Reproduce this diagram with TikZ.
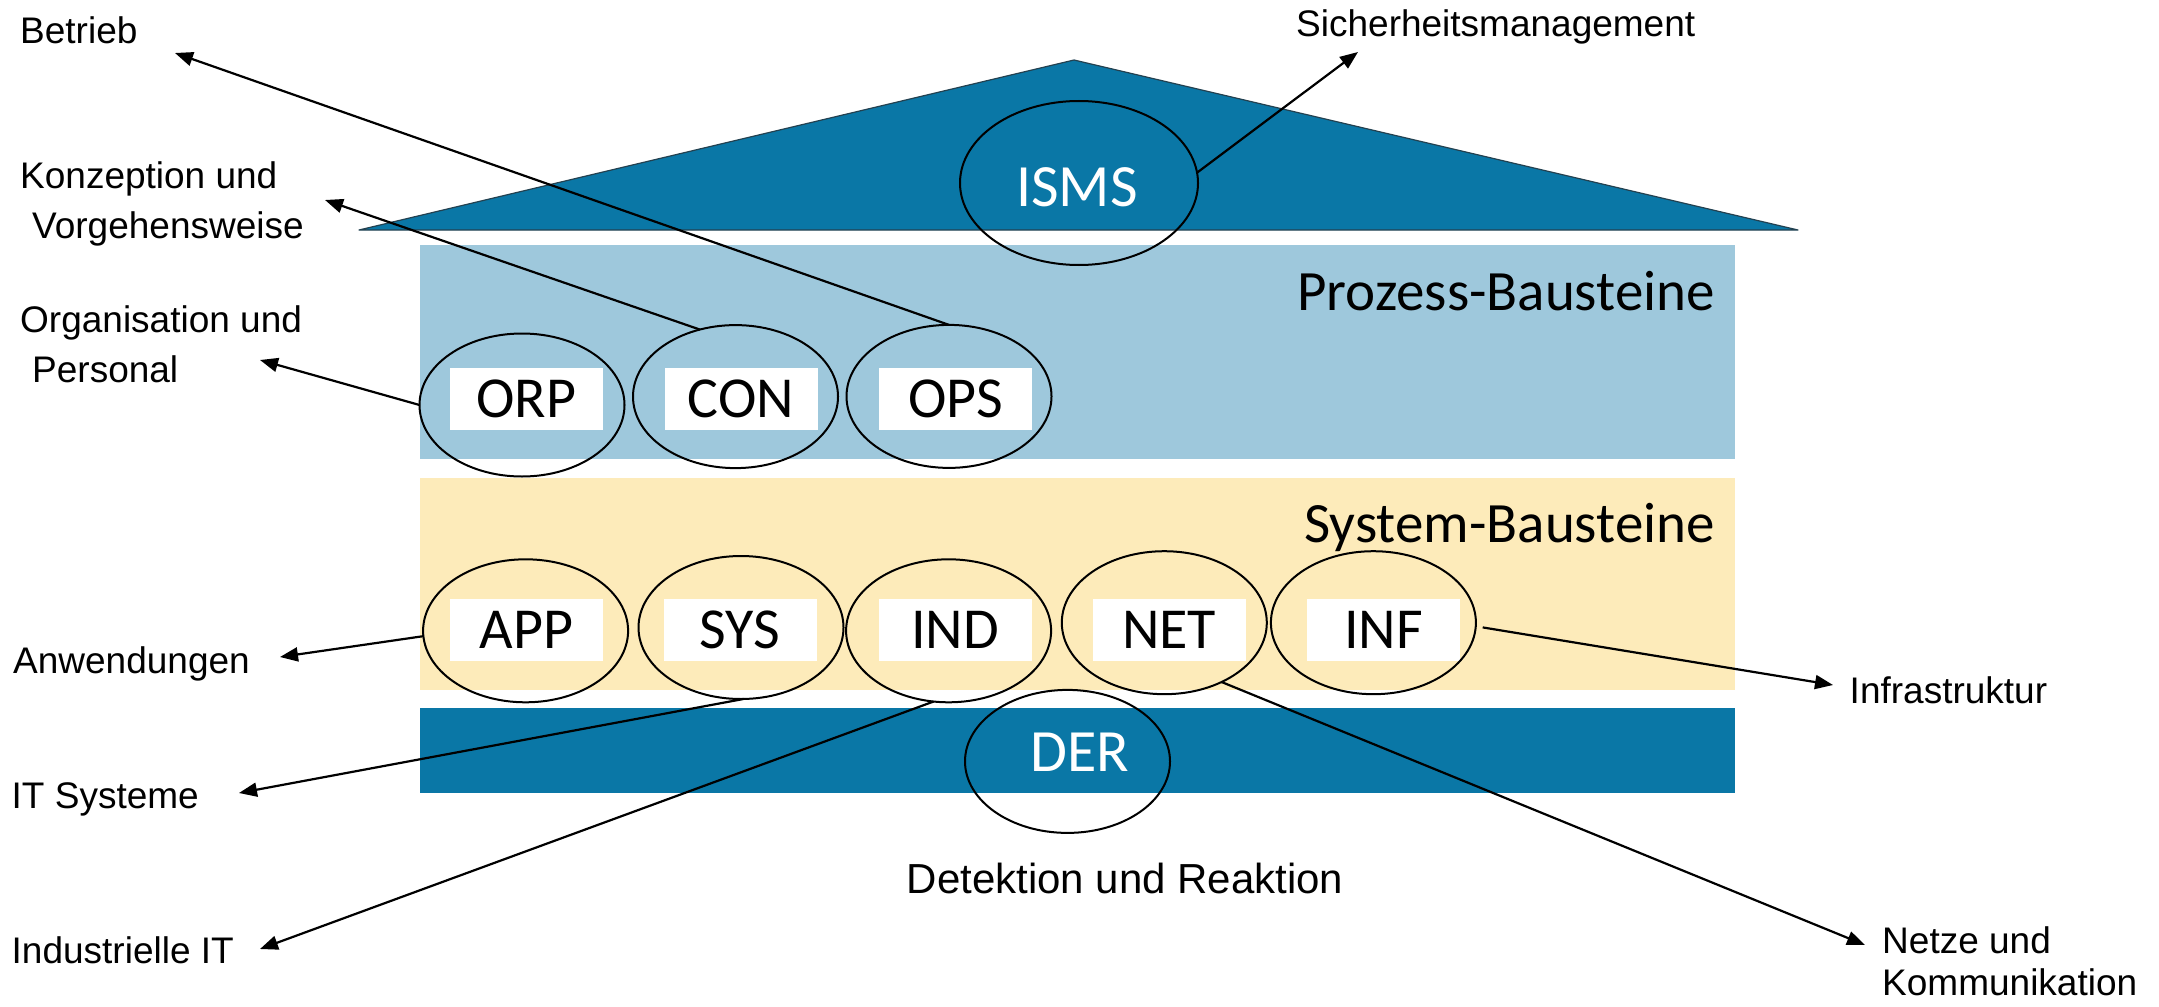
\documentclass[tikz,border=0pt]{standalone}
\usepackage{fontspec}
\setmainfont{Liberation Sans}
\newfontfamily\blockfont{Carlito}
\usetikzlibrary{arrows.meta,shapes.geometric}

\definecolor{roofblue}{RGB}{10,119,166}
\definecolor{procblue}{RGB}{158,200,220}
\definecolor{sysyellow}{RGB}{253,235,186}
\definecolor{roofedge}{RGB}{35,65,80}

\begin{document}
\begin{tikzpicture}[x=1pt,y=-1pt,
  tag/.style={fill=white,minimum width=153pt,minimum height=62pt,inner sep=0pt,
    font=\blockfont\fontsize{58}{60}\selectfont},
  ring/.style={ellipse,draw,line width=2pt,minimum width=205pt,minimum height=143pt,
    inner sep=0pt,outer sep=0pt},
  callout/.style={line width=2.2pt,-{Triangle[length=18pt,width=14pt]}},
  lbl/.style={inner sep=0pt,anchor=base west,align=left,font=\fontsize{37}{50}\selectfont},
  heading/.style={inner sep=0pt,anchor=base east,font=\blockfont\fontsize{57}{60}\selectfont},
  inverse/.style={inner sep=0pt,text=white,font=\blockfont\fontsize{60}{62}\selectfont}
]
\useasboundingbox (0,0) rectangle (2159,1006);

% roof and the three floors of the house
\draw[fill=roofblue,draw=roofedge,line width=1.2pt,line join=round]
  (359,230) -- (1074,60) -- (1798,230) -- cycle;
\fill[procblue] (420,245) rectangle (1735,459);
\fill[sysyellow] (420,478) rectangle (1735,690);
\fill[roofblue] (420,708) rectangle (1735,793);

\node[heading] (hproc) at (1715,310) {Prozess-Bausteine};
\node[heading] (hsys) at (1715,542) {System-Bausteine};

% module tags
\node[tag] (tORP) at (526.5,399) {ORP};
\node[tag] (tCON) at (741,399) {CON};
\node[tag] (tOPS) at (955.6,399) {OPS};
\node[tag] (tAPP) at (526.5,630) {APP};
\node[tag] (tSYS) at (740,630) {SYS};
\node[tag] (tIND) at (955,630) {IND};
\node[tag] (tNET) at (1169,630) {NET};
\node[tag] (tINF) at (1383.6,630) {INF};
\node[inverse] (tISMS) at (1077,187) {ISMS};
\node[inverse] (tDER) at (1080,752) {DER};

% rings around the modules
\node[ring,minimum width=238pt,minimum height=164pt] (isms) at (1079,183) {};
\node[ring] (orp) at (522,405) {};
\node[ring] (con) at (735.5,396.6) {};
\node[ring] (ops) at (949,396.4) {};
\node[ring] (app) at (525.6,630.8) {};
\node[ring] (sys) at (741,627.5) {};
\node[ring] (ind) at (948.6,630.8) {};
\node[ring] (net) at (1164.3,622.7) {};
\node[ring] (inf) at (1373.4,622.7) {};
\node[ring] (der) at (1067.5,761.4) {};

% explanations (two-line ones are placed by the baseline of their last line)
\node[lbl] (lBetrieb) at (20,44) {Betrieb};
\node[lbl] (lKonz) at (20,238) {Konzeption und\\\hspace*{12pt}Vorgehensweise};
\node[lbl] (lOrga) at (20,382) {Organisation und\\\hspace*{12pt}Personal};
\node[lbl] (lSicher) at (1296,37) {Sicherheitsmanagement};
\node[lbl] (lAnw) at (13,673) {Anwendungen};
\node[lbl] (lITS) at (11.5,808) {IT Systeme};
\node[lbl] (lInd) at (11.5,963) {Industrielle IT};
\node[lbl] (lInfra) at (1849.5,703) {Infrastruktur};
\node[lbl,font=\fontsize{37}{42}\selectfont] (lNetze) at (1882,995) {Netze und\\Kommunikation};
\node[inner sep=0pt,anchor=base,font=\fontsize{42}{50}\selectfont] (lDet) at (1125,893)
  {Detektion und Reaktion};

% arrow ends next to the explanations
\coordinate (pBetrieb) at (175,53);
\coordinate (pKonz) at (325,200);
\coordinate (pOrga) at (260,360);
\coordinate (pSicher) at (1358,52);
\coordinate (pAnw) at (280,657);
\coordinate (pITS) at (239,793);
\coordinate (pInd) at (260,949);
\coordinate (pInfra) at (1833,685);
\coordinate (pNetze) at (1865,945);

\draw[callout] (isms.5.5) -- (pSicher);
\draw[callout] (ops.90) -- (pBetrieb);
\draw[callout] (con.118.6) -- (pKonz);
\draw[callout] (orp.180) -- (pOrga);
\draw[callout] (app.183) -- (pAnw);
\draw[callout] (sys.272) -- (pITS);
\draw[callout] (ind.258) -- (pInd);
\draw[callout] (net.314.8) -- (pNetze);
\draw[callout,shorten <=7pt] (inf.358) -- (pInfra);
\end{tikzpicture}
\end{document}
